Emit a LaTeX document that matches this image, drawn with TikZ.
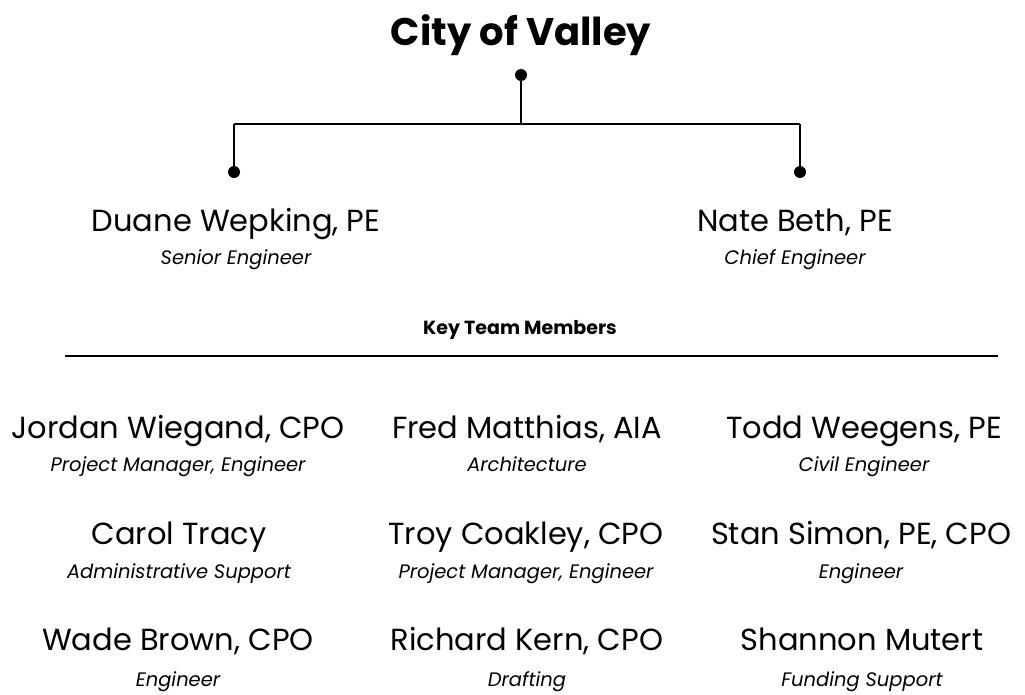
\documentclass[tikz,border=0pt]{standalone}
\usepackage{fontspec}
\setmainfont{Poppins}
\begin{document}
\begin{tikzpicture}[x=1pt,y=-1pt,
  ttl/.style={font=\fontsize{38.5}{44}\selectfont\bfseries, anchor=base},
  leadname/.style={font=\fontsize{30.5}{34}\selectfont, anchor=base},
  pname/.style={font=\fontsize{30.5}{34}\selectfont, anchor=base},
  prole/.style={font=\fontsize{19.5}{22}\selectfont\itshape, anchor=base},
  hdr/.style={font=\fontsize{19}{22}\selectfont\bfseries, anchor=base},
  conn/.style={line width=2pt, black},
  dotc/.style={circle, fill=black, inner sep=0pt, minimum size=12pt}]
\useasboundingbox (0,0) rectangle (1025,694);
\node[ttl] (t) at (521,45) {City of Valley};
\node[dotc] (d0) at (521,75) {};
\coordinate (j) at (521,124);
\coordinate (jl) at (234,124);
\coordinate (jr) at (800,124);
\node[dotc] (d1) at (234,172) {};
\node[dotc] (d2) at (800,172) {};
\draw[conn] (d0.center) -- (j);
\draw[conn] (jl) -- (jr);
\draw[conn] (jl) -- (d1.center);
\draw[conn] (jr) -- (d2.center);

\node[leadname] (n1) at (236,231) {Duane Wepking, PE};
\node[prole] (r1) at (236,264) {Senior Engineer};
\node[leadname] (n2) at (795,231) {Nate Beth, PE};
\node[prole] (r2) at (795,264) {Chief Engineer};

\node[hdr] (k) at (520,334) {Key Team Members};
\coordinate (l1) at (65,356);
\coordinate (l2) at (998,356);
\draw[line width=1.8pt] (l1) -- (l2);

\node[pname] (a1) at (178,438) {Jordan Wiegand, CPO};
\node[prole] (b1) at (178,471) {Project Manager, Engineer};
\node[pname] (a2) at (527,438) {Fred Matthias, AIA};
\node[prole] (b2) at (527,471) {Architecture};
\node[pname] (a3) at (864,438) {Todd Weegens, PE};
\node[prole] (b3) at (864,471) {Civil Engineer};

\node[pname] (a4) at (179,544) {Carol Tracy};
\node[prole] (b4) at (179,578) {Administrative Support};
\node[pname] (a5) at (526,544) {Troy Coakley, CPO};
\node[prole] (b5) at (526,578) {Project Manager, Engineer};
\node[pname] (a6) at (861,544) {Stan Simon, PE, CPO};
\node[prole] (b6) at (861,578) {Engineer};

\node[pname] (a7) at (178,650) {Wade Brown, CPO};
\node[prole] (b7) at (178,686) {Engineer};
\node[pname] (a8) at (527,650) {Richard Kern, CPO};
\node[prole] (b8) at (527,686) {Drafting};
\node[pname] (a9) at (862,650) {Shannon Mutert};
\node[prole] (b9) at (862,686) {Funding Support};
\end{tikzpicture}
\end{document}
